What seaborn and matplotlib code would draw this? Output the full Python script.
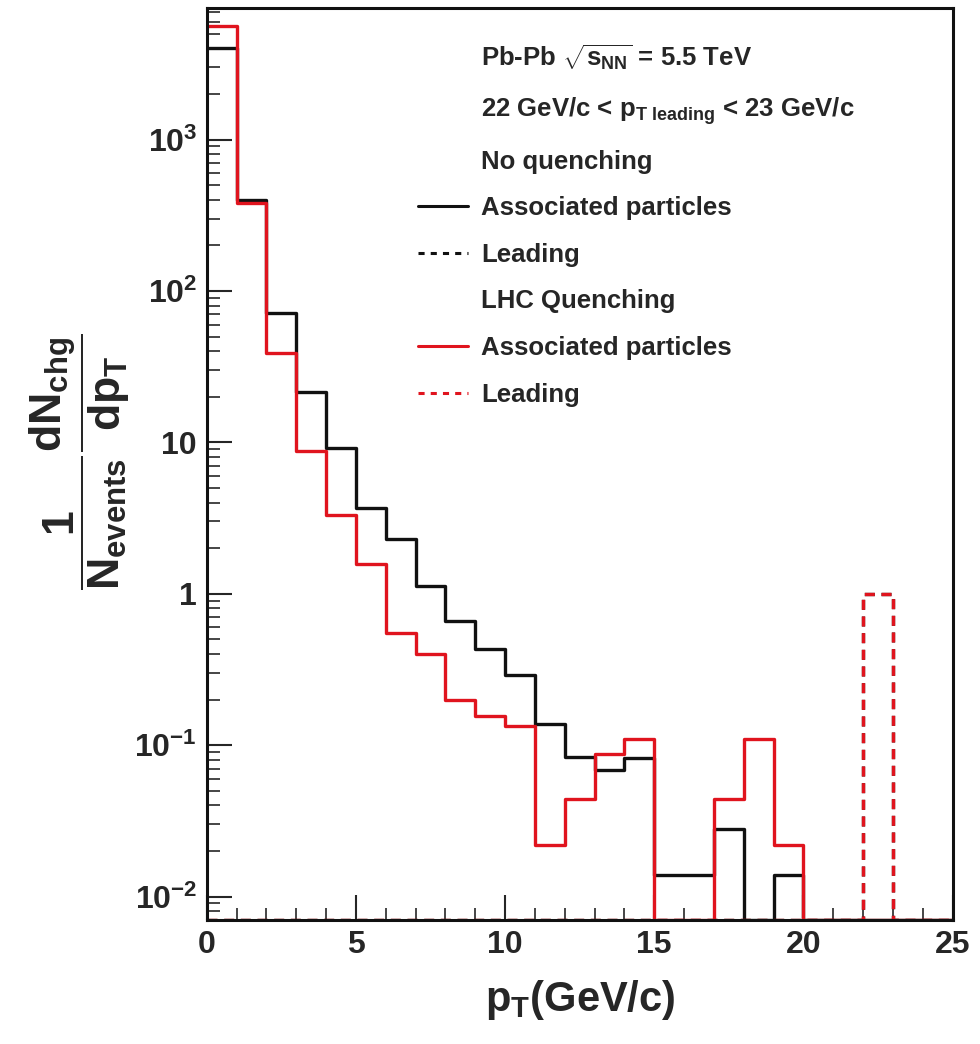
import numpy as np
import pandas as pd
import matplotlib
matplotlib.use("Agg")
import matplotlib.pyplot as plt
from matplotlib.lines import Line2D
from matplotlib.ticker import LogLocator, FuncFormatter, MultipleLocator, NullFormatter, FixedLocator
import seaborn as sns

# ---------------- data ----------------
bin_edges = list(range(0, 26))
no_quench_assoc = [4000, 400, 72, 21.5, 9.2, 3.7, 2.3, 1.12, 0.66, 0.43, 0.29, 0.138,
                   0.084, 0.069, 0.082, 0.0138, 0.0138, 0.0278, 0, 0.0138, 0, 0, 0, 0, 0]
lhc_quench_assoc = [5600, 380, 39, 8.8, 3.3, 1.57, 0.55, 0.40, 0.20, 0.155, 0.134, 0.022,
                    0.044, 0.088, 0.11, 0, 0, 0.044, 0.11, 0.022, 0, 0, 0, 0, 0]
no_quench_leading = [0] * 22 + [1.0] + [0] * 2
lhc_quench_leading = [0] * 22 + [1.0] + [0] * 2

y_tick_values = [0.01, 0.1, 1, 10, 100, 1000]
y_tick_labels = [r"$10^{-2}$", r"$10^{-1}$", "1", "10", r"$10^{2}$", r"$10^{3}$"]

legend_labels = [r"Pb-Pb $\sqrt{s_{NN}}$ = 5.5 TeV",
                 r"22 GeV/c < $p_{T\ \mathrm{leading}}$ < 23 GeV/c",
                 "No quenching", "Associated particles", "Leading",
                 "LHC Quenching", "Associated particles", "Leading"]

# ---------------- style ----------------
sns.set_style("ticks")
plt.rcParams["font.family"] = ["Liberation Sans", "DejaVu Sans"]
plt.rcParams["font.weight"] = "bold"
plt.rcParams["mathtext.fontset"] = "custom"
plt.rcParams["mathtext.rm"] = "Liberation Sans:bold"
plt.rcParams["mathtext.bf"] = "Liberation Sans:bold"
plt.rcParams["mathtext.it"] = "Liberation Sans:bold"
plt.rcParams["mathtext.sf"] = "Liberation Sans:bold"
plt.rcParams["mathtext.default"] = "rm"

BLACK = "#111111"
RED = "#e0141e"
YMIN, YMAX = 0.007, 7400

fig = plt.figure(figsize=(9.8, 10.44), dpi=100)
ax = fig.add_axes([0.211, 0.1188, 0.761, 0.8736])

edges = np.asarray(bin_edges, dtype=float)
centers = (edges[:-1] + edges[1:]) / 2.0

def draw(vals, color, ls):
    w = np.maximum(np.asarray(vals, dtype=float), YMIN)
    df = pd.DataFrame({"pT": centers, "w": w})
    sns.histplot(data=df, x="pT", weights="w", bins=bin_edges, element="step", fill=False,
                 color=color, linewidth=2.4, linestyle=ls, ax=ax)

draw(no_quench_assoc, BLACK, "-")
draw(no_quench_leading, BLACK, (0, (3, 2)))
draw(lhc_quench_assoc, RED, "-")
draw(lhc_quench_leading, RED, (0, (3, 2)))

ax.set_yscale("log")
ax.set_xlim(0, 25)
ax.set_ylim(YMIN, YMAX)
ax.set_xlabel("")
ax.set_ylabel("")
ax.xaxis.label.set_visible(False)
ax.yaxis.label.set_visible(False)

# ticks
ax.xaxis.set_major_locator(MultipleLocator(5))
ax.xaxis.set_minor_locator(MultipleLocator(1))
ax.yaxis.set_major_locator(FixedLocator(y_tick_values))
ax.yaxis.set_minor_locator(LogLocator(base=10, subs=np.arange(2, 10), numticks=20))
ax.yaxis.set_minor_formatter(NullFormatter())
ax.set_yticks(y_tick_values)
ax.set_yticklabels(y_tick_labels)
ax.set_ylim(YMIN, YMAX)

ax.tick_params(axis="both", which="major", direction="in", length=18, width=1.5,
               labelsize=23, pad=7, top=False, right=False)
ax.tick_params(axis="both", which="minor", direction="in", length=9, width=1.2,
               top=False, right=False)
for t in ax.get_xticklabels() + ax.get_yticklabels():
    t.set_fontweight("bold")
for s in ax.spines.values():
    s.set_linewidth(2.2)
    s.set_color(BLACK)
    s.set_visible(True)

# legend
blank = Line2D([], [], color="none")
handles = [blank, blank, blank,
           Line2D([], [], color=BLACK, lw=2.2),
           Line2D([], [], color=BLACK, lw=2.2, ls=(0, (2, 2))),
           blank,
           Line2D([], [], color=RED, lw=2.2),
           Line2D([], [], color=RED, lw=2.2, ls=(0, (2, 2)))]
leg = ax.legend(handles, legend_labels, loc="upper left", bbox_to_anchor=(0.283, 0.962),
                frameon=False, fontsize=18.5, handlelength=1.95, handletextpad=0.5,
                labelspacing=0.88, borderpad=0, borderaxespad=0)
for t in leg.get_texts():
    t.set_fontweight("bold")

# axis titles
fig.text(580 / 980, 1 - 1000 / 1044, r"$p_{T}$(GeV/c)", fontsize=30, fontweight="bold",
         ha="center", va="center")
fig.text(80 / 980, 1 - 462 / 1044,
         r"$\dfrac{1}{N_{events}}\dfrac{dN_{chg}}{dp_{T}}$",
         fontsize=32, fontweight="bold", rotation=90, ha="center", va="center")

fig.savefig("out.png", dpi=100)
